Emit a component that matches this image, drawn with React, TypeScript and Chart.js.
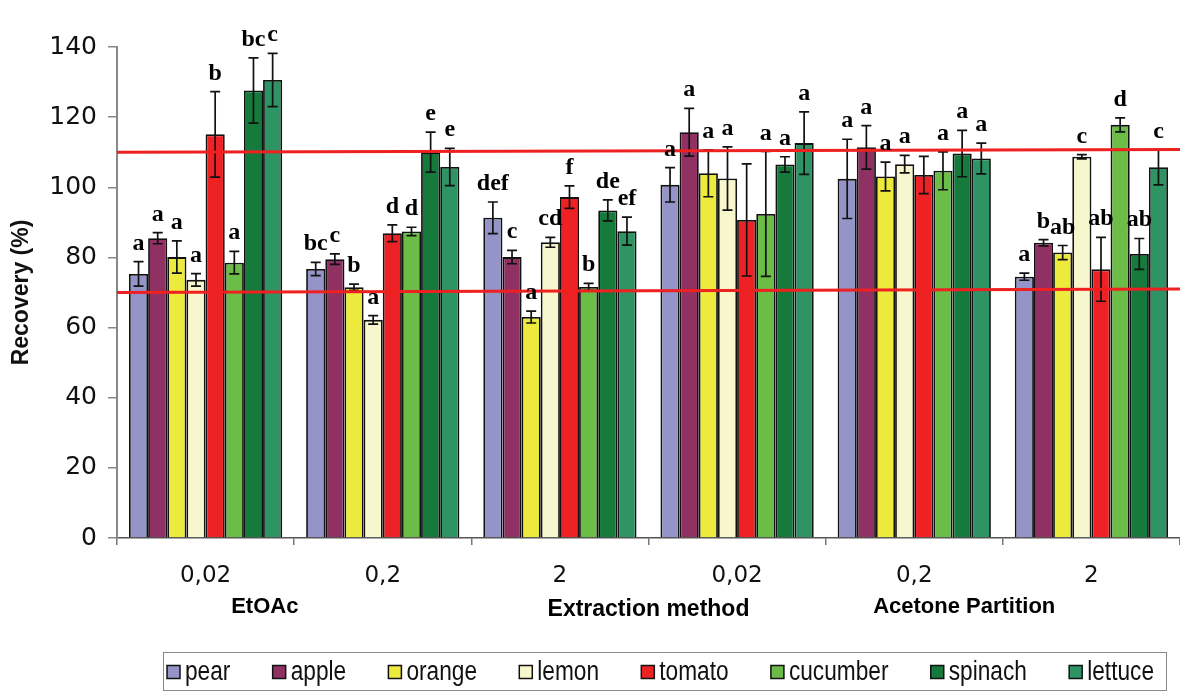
import React, { useEffect, useRef } from "react";
import { Chart, registerables } from "chart.js";

Chart.register(...registerables);

// ---- data ----
const groups = ["0,02", "0,2", "2", "0,02", "0,2", "2"];
const methodTitles = ["EtOAc", "Extraction method", "Acetone Partition"];
const fruits = ["pear", "apple", "orange", "lemon", "tomato", "cucumber", "spinach", "lettuce"];

const pear = [75.3, 76.7, 91.3, 100.7, 102.4, 74.5];
const apple = [85.5, 79.5, 80.1, 115.7, 111.4, 84.2];
const orange = [80.1, 71.5, 63.0, 104.0, 103.1, 81.4];
const lemon = [73.6, 62.2, 84.3, 102.5, 106.6, 108.7];
const tomato = [115.1, 86.9, 97.2, 90.7, 103.5, 76.6];
const cucumber = [78.5, 87.4, 71.6, 92.4, 104.7, 117.8];
const spinach = [127.6, 110.0, 93.4, 106.5, 109.6, 81.0];
const lettuce = [130.6, 105.8, 87.5, 112.6, 108.2, 105.7];

const pearErr = [3.5, 1.9, 4.5, 4.9, 11.3, 1.0];
const appleErr = [1.6, 1.5, 1.9, 6.8, 6.2, 0.9];
const orangeErr = [4.6, 0.9, 1.7, 6.7, 4.1, 2.0];
const lemonErr = [1.8, 1.2, 1.4, 9.0, 2.5, 0.6];
const tomatoErr = [12.2, 2.4, 3.2, 16.0, 5.3, 9.1];
const cucumberErr = [3.2, 1.2, 1.0, 17.8, 5.4, 2.0];
const spinachErr = [9.3, 5.7, 3.0, 2.2, 6.6, 4.4];
const lettuceErr = [7.6, 5.3, 4.0, 8.9, 4.4, 5.0];

const pearSig = ["a", "bc", "def", "a", "a", "a"];
const appleSig = ["a", "c", "c", "a", "a", "b"];
const orangeSig = ["a", "b", "a", "a", "a", "ab"];
const lemonSig = ["a", "a", "cd", "a", "a", "c"];
const tomatoSig = ["b", "d", "f", "", "", "ab"];
const cucumberSig = ["a", "d", "b", "a", "a", "d"];
const spinachSig = ["bc", "e", "de", "a", "a", "ab"];
const lettuceSig = ["c", "e", "ef", "a", "a", "c"];

// acceptance limits (left end, right end)
const lowerLimit = [70, 71];
const upperLimit = [110, 110.8];

const yMin = 0;
const yMax = 140;
const yStep = 20;

// ---- styles ----
const colors = ["#9494c8", "#8f3162", "#ecea3c", "#f8f6cc", "#ee2224", "#6cbc48", "#157a3c", "#2e9464"];
const titleAnchors = [0.139, 0.5, 0.797];

const values = [pear, apple, orange, lemon, tomato, cucumber, spinach, lettuce];
const errors = [pearErr, appleErr, orangeErr, lemonErr, tomatoErr, cucumberErr, spinachErr, lettuceErr];
const sigs = [pearSig, appleSig, orangeSig, lemonSig, tomatoSig, cucumberSig, spinachSig, lettuceSig];

const annotatePlugin = {
  id: "annotate",
  afterDatasetsDraw(chart: any) {
    const ctx = chart.ctx;
    const y = chart.scales.y;
    const area = chart.chartArea;
    ctx.save();
    // error bars
    chart.data.datasets.forEach((ds: any, di: number) => {
      const meta = chart.getDatasetMeta(di);
      meta.data.forEach((bar: any, i: number) => {
        const v = ds.data[i];
        const e = ds.errors[i];
        const yt = y.getPixelForValue(v + e);
        const yb = y.getPixelForValue(v - e);
        ctx.strokeStyle = "#111";
        ctx.lineWidth = 1.7;
        ctx.beginPath();
        ctx.moveTo(bar.x, yt);
        ctx.lineTo(bar.x, yb);
        ctx.moveTo(bar.x - 5, yt);
        ctx.lineTo(bar.x + 5, yt);
        ctx.moveTo(bar.x - 5, yb);
        ctx.lineTo(bar.x + 5, yb);
        ctx.stroke();
      });
    });
    // limit lines
    ctx.strokeStyle = "#ee2020";
    ctx.lineWidth = 3;
    [lowerLimit, upperLimit].forEach((lim) => {
      ctx.beginPath();
      ctx.moveTo(area.left, y.getPixelForValue(lim[0]));
      ctx.lineTo(area.right, y.getPixelForValue(lim[1]));
      ctx.stroke();
    });
    // significance letters
    ctx.fillStyle = "#000";
    ctx.font = "bold 24px 'Liberation Serif', 'Times New Roman', serif";
    ctx.textAlign = "center";
    ctx.textBaseline = "alphabetic";
    chart.data.datasets.forEach((ds: any, di: number) => {
      const meta = chart.getDatasetMeta(di);
      meta.data.forEach((bar: any, i: number) => {
        const txt = ds.sig[i];
        if (!txt) return;
        const yt = y.getPixelForValue(ds.data[i] + ds.errors[i]);
        ctx.fillText(txt, bar.x, yt - 12);
      });
    });
    ctx.restore();
  },
  afterDraw(chart: any) {
    const ctx = chart.ctx;
    const area = chart.chartArea;
    ctx.save();
    // method titles
    ctx.fillStyle = "#000";
    ctx.textAlign = "center";
    ctx.textBaseline = "middle";
    methodTitles.forEach((t, i) => {
      const x = area.left + (area.right - area.left) * titleAnchors[i];
      ctx.font = i === 1 ? "bold 23px 'Liberation Sans', Arial, sans-serif" : "bold 22px 'Liberation Sans', Arial, sans-serif";
      ctx.fillText(t, x, i === 1 ? 610 : 607);
    });
    // legend
    const boxL = 163, boxT = 652, boxR = 1166, boxB = 690;
    ctx.strokeStyle = "#8a8a8a";
    ctx.lineWidth = 1;
    ctx.strokeRect(boxL + 0.5, boxT + 0.5, boxR - boxL, boxB - boxT);
    ctx.font = "27px 'Liberation Sans', Arial, sans-serif";
    ctx.textAlign = "left";
    const squeeze = 0.84;
    const sw = 13, gap = 5;
    const widths = fruits.map((f) => ctx.measureText(f).width * squeeze);
    const used = widths.reduce((a, b) => a + b + sw + gap, 0);
    const startX = boxL + 4, endX = boxR - 12;
    const spacing = (endX - startX - used) / (fruits.length - 1);
    let x = startX;
    const cy = 672;
    fruits.forEach((f, i) => {
      ctx.fillStyle = colors[i];
      ctx.fillRect(x, cy - sw / 2, sw, sw);
      ctx.strokeStyle = "#111";
      ctx.lineWidth = 1.5;
      ctx.strokeRect(x, cy - sw / 2, sw, sw);
      ctx.fillStyle = "#111";
      ctx.save();
      ctx.translate(x + sw + gap, cy + 1);
      ctx.scale(squeeze, 1);
      ctx.fillText(f, 0, 0);
      ctx.restore();
      x += sw + gap + widths[i] + spacing;
    });
    ctx.restore();
  },
};

export default function App() {
  const ref = useRef<HTMLCanvasElement | null>(null);
  useEffect(() => {
    if (!ref.current) return;
    const chart = new Chart(ref.current, {
      type: "bar",
      data: {
        labels: groups,
        datasets: fruits.map((f, i) => ({
          label: f,
          data: values[i],
          errors: errors[i],
          sig: sigs[i],
          backgroundColor: colors[i],
          borderColor: "#111",
          borderWidth: 1.8,
          categoryPercentage: 0.865,
          barPercentage: 1.0,
        })) as any,
      },
      options: {
        animation: false,
        responsive: false,
        devicePixelRatio: 1,
        layout: { padding: { top: 47, left: 0, right: 0, bottom: 0 } },
        plugins: { legend: { display: false }, tooltip: { enabled: false } },
        scales: {
          x: {
            grid: { drawOnChartArea: false, offset: true, tickLength: 7, color: "#777", lineWidth: 1.5 },
            border: { color: "#555", width: 1.5 },
            ticks: { font: { family: "'DejaVu Sans', sans-serif", size: 23 }, color: "#111", padding: 17 },
            afterFit: (s: any) => {
              s.height = 153;
            },
          },
          y: {
            min: yMin,
            max: yMax,
            ticks: { stepSize: yStep, font: { family: "'DejaVu Sans', sans-serif", size: 25 }, color: "#111", padding: 11 },
            grid: { drawOnChartArea: false, tickLength: 9, color: "#888", lineWidth: 1.5 },
            border: { color: "#888", width: 2 },
            title: {
              display: true,
              text: "Recovery (%)",
              font: { family: "'Liberation Sans', Arial, sans-serif", size: 23, weight: "bold" },
              color: "#111",
              padding: { top: 8, bottom: 0 },
            },
            afterFit: (s: any) => {
              s.width = 117;
            },
          },
        },
      },
      plugins: [annotatePlugin],
    });
    return () => chart.destroy();
  }, []);
  return (
    <div style={{ position: "fixed", left: 0, top: 0, width: 1180, height: 691, background: "#fff" }}>
      <canvas ref={ref} width={1180} height={691} />
    </div>
  );
}
